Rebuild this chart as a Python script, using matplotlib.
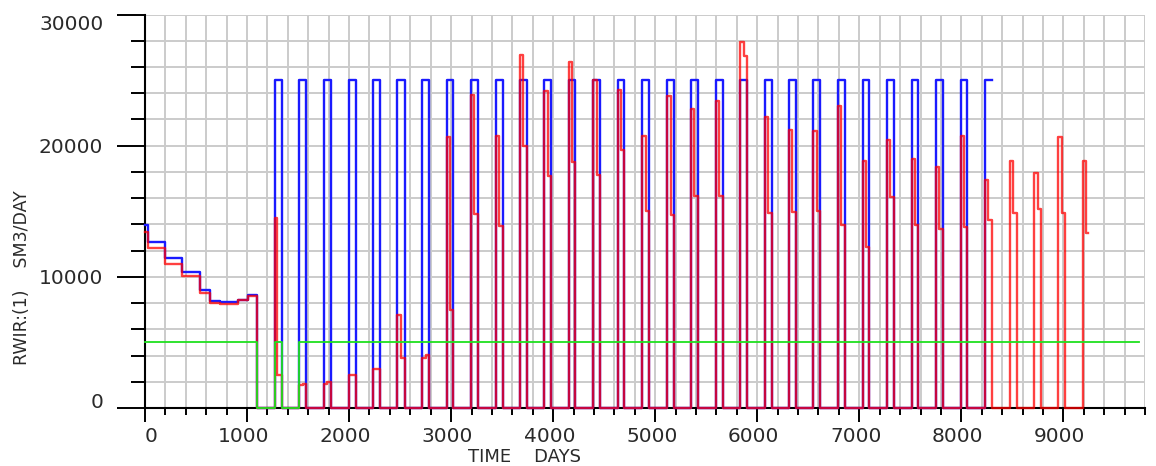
import matplotlib
matplotlib.use("Agg")
import matplotlib.pyplot as plt
from matplotlib.ticker import MultipleLocator
from matplotlib.transforms import ScaledTranslation

# --- data -----------------------------------------------------------------
# initial (pre-cycling) period: step boundaries in days and rates (SM3/DAY)
early_t = [0, 33, 196, 366, 539, 637, 735, 915, 1006, 1094]
early_blue = [13950, 12650, 11400, 10400, 9000, 8150, 8050, 8250, 8650]
early_red = [13400, 12200, 11000, 10100, 8750, 8000, 7900, 8200, 8550]

# injection cycles: start, internal rate change, end (days)
cycle_start = [1274, 1512, 1754, 1999, 2237, 2472, 2717, 2956, 3194, 3440,
               3675, 3913, 4155, 4394, 4632, 4873, 5118, 5350, 5592, 5831,
               6075, 6311, 6549, 6788, 7033, 7268, 7513, 7751, 7993, 8231,
               8475, 8714, 8949, 9188]
cycle_step = [1297, 1545, 1788, 2032, 2270, 2509, 2750, 2989, 3227, 3472,
              3708, 3946, 4187, 4427, 4665, 4906, 5151, 5384, 5626, 5870,
              6108, 6344, 6582, 6822, 7066, 7302, 7546, 7786, 8026, 8264,
              8508, 8747, 8982, 9218]
cycle_end = [1346, 1575, 1822, 2065, 2303, 2548, 2786, 3021, 3266, 3505,
             3744, 3979, 4214, 4459, 4697, 4939, 5186, 5422, 5661, 5902,
             6144, 6376, 6614, 6859, 7098, 7340, 7578, 7822, 8057, 8297,
             8541, 8779, 9015, 9243]

# target rate during cycles (blue, first 30 cycles)
blue_cycle = [25000, 25000, 25000, 25000, 25000, 25000, 25000, 25000, 25000, 25000,
              25000, 25000, 25000, 25000, 25000, 25000, 25000, 25000, 25000, 25000,
              25000, 25000, 25000, 25000, 25000, 25000, 25000, 25000, 25000, 25000]

# actual rate during cycles (red): first and second part of each cycle
red_first = [14500, 1750, 1800, 2550, 3000, 7100, 3800, 20650, 23850, 20700,
             26900, 24200, 26350, 25000, 24250, 20750, 23750, 22800, 23400, 27900,
             22200, 21200, 21100, 23000, 18800, 20400, 18950, 18400, 20750, 17400,
             18800, 17950, 20650, 18850]
red_second = [2550, 1800, 2000, 2550, 3000, 3850, 4050, 7450, 14800, 13850,
              19950, 17650, 18750, 17800, 19700, 15050, 14750, 16200, 16200, 26800,
              14900, 14950, 15050, 13950, 12300, 16100, 13950, 13650, 13800, 14300,
              14900, 15150, 14850, 13350]

# green reference limit
green_t = [0, 1094, 1274, 1346, 1512, 9738]
green_v = [5000, 0, 5000, 0, 5000, 5000]

# axis tick values
x_major = [0, 1000, 2000, 3000, 4000, 5000, 6000, 7000, 8000, 9000]
y_major = [0, 10000, 20000, 30000]

# --- build step paths -----------------------------------------------------
blue_x = list(early_t)
blue_y = list(early_blue) + [0]
n_blue = len(blue_cycle)
for i in range(n_blue):
    blue_x += [cycle_start[i], cycle_end[i]]
    last = i == n_blue - 1
    blue_y += [blue_cycle[i], blue_cycle[i] if last else 0]

red_x = list(early_t)
red_y = list(early_red) + [0]
n_red = len(red_first)
for i in range(n_red):
    red_x += [cycle_start[i], cycle_step[i], cycle_end[i]]
    last = i == n_red - 1
    red_y += [red_first[i], red_second[i], red_second[i] if last else 0]

# --- figure ---------------------------------------------------------------
W, H, DPI = 1156, 466, 100
fig = plt.figure(figsize=(W / DPI, H / DPI), dpi=DPI)
ax = fig.add_axes([145 / W, 58 / H, 1000 / W, 393.5 / H])

ax.set_xlim(0, 9800)
ax.set_ylim(0, 30000)

ax.xaxis.set_major_locator(MultipleLocator(1000))
ax.xaxis.set_minor_locator(MultipleLocator(200))
ax.yaxis.set_minor_locator(MultipleLocator(2000))
ax.set_xticks(x_major, [str(v) for v in x_major])
ax.set_yticks(y_major, [str(v) for v in y_major])

ax.grid(True, which="both", color="#cbcbcb", lw=1.4, zorder=0)
ax.set_axisbelow(True)

for side in ("top", "right"):
    ax.spines[side].set_visible(False)
for side in ("left", "bottom"):
    ax.spines[side].set_linewidth(1.5)
    ax.spines[side].set_color("black")
    ax.spines[side].set_zorder(2)

tick_color = "#2a2a2a"
ax.tick_params(axis="y", which="major", direction="out", length=20, width=1.4,
               pad=10, labelsize=14.5, labelcolor=tick_color)
ax.tick_params(axis="y", which="minor", direction="out", length=10, width=1.4)
ax.tick_params(axis="x", which="major", direction="out", length=10, width=1.4,
               pad=3.5, labelsize=14.5, labelcolor=tick_color)
ax.tick_params(axis="x", which="minor", direction="out", length=5, width=1.4)

ylabels = ax.get_yticklabels()
ylabels[0].set_verticalalignment("baseline")
ylabels[-1].set_verticalalignment("top")

shift = ScaledTranslation(-3.5 / DPI, 0, fig.dpi_scale_trans)
for k, lbl in enumerate(ax.get_xticklabels()):
    if k == 0:
        lbl.set_horizontalalignment("left")
    else:
        lbl.set_transform(lbl.get_transform() + shift)

# curves
ax.plot(blue_x, blue_y, drawstyle="steps-post", color="#1a1aff", lw=1.7,
        zorder=3, clip_on=False, solid_joinstyle="round")
ax.plot(red_x, red_y, drawstyle="steps-post", color="#ff0000", lw=1.7,
        alpha=0.75, zorder=4, clip_on=False)
ax.plot(green_t, green_v, drawstyle="steps-post", color="#1fe01f", lw=1.3,
        zorder=5, clip_on=False)

# axis titles
fig.text(22 / W, 1 - 278 / H, "RWIR:(1)    SM3/DAY", rotation=90,
         ha="center", va="center", fontsize=12.5, color=tick_color)
fig.text(525 / W, 0.5 / H, "TIME    DAYS", ha="center", va="bottom",
         fontsize=13, color=tick_color)

fig.savefig("out.png", dpi=DPI)
